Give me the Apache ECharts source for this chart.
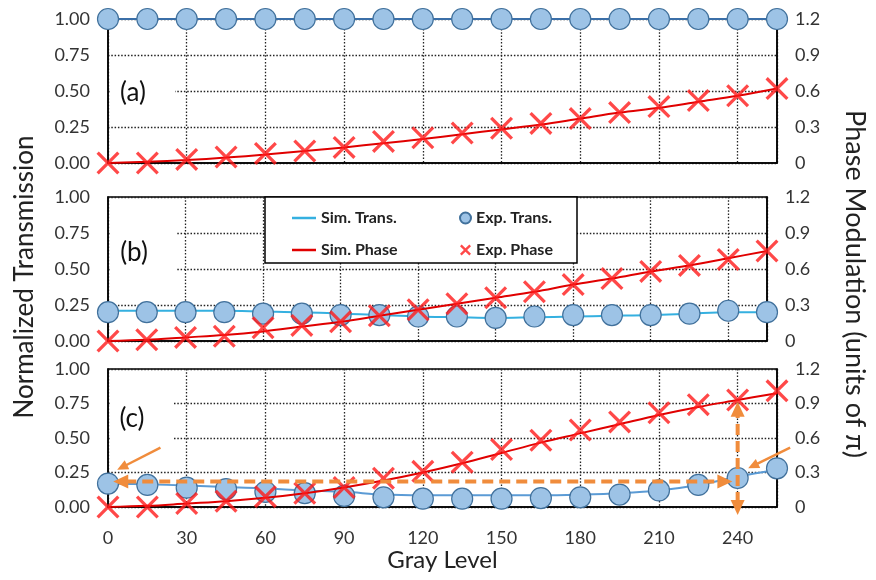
<!DOCTYPE html>
<html><head><meta charset="utf-8">
<script src="https://cdn.jsdelivr.net/npm/echarts@6/dist/echarts.min.js"></script>
<style>html,body{margin:0;padding:0;background:#fff}#c{width:876px;height:580px}</style>
</head><body><div id="c"></div><script>
// ---- data ----
const gray = [0,15,30,45,60,75,90,105,120,135,150,165,180,195,210,225,240,255];
const xTicks = [0,30,60,90,120,150,180,210,240];
const leftTicks = ['0.00','0.25','0.50','0.75','1.00'];
const rightTicks = ['0','0.3','0.6','0.9','1.2'];

const aSimTrans = [1,1,1,1,1,1,1,1,1,1,1,1,1,1,1,1,1,1];
const aExpTrans = [1,1,1,1,1,1,1,1,1,1,1,1,1,1,1,1,1,1];
const aSimPhase = [0,0.01,0.025,0.045,0.07,0.10,0.13,0.165,0.20,0.24,0.28,0.32,0.37,0.42,0.46,0.51,0.56,0.62];
const aExpPhase = [0,0,0.03,0.05,0.08,0.10,0.13,0.18,0.21,0.25,0.29,0.33,0.37,0.42,0.47,0.52,0.56,0.62];

const bSimTrans = [0.21,0.21,0.21,0.21,0.205,0.20,0.19,0.18,0.17,0.165,0.16,0.165,0.17,0.175,0.18,0.19,0.20,0.20];
const bExpTrans = [0.20,0.20,0.20,0.20,0.19,0.19,0.18,0.18,0.17,0.17,0.16,0.17,0.18,0.18,0.18,0.19,0.21,0.20];
const bSimPhase = [0,0.01,0.03,0.05,0.08,0.12,0.16,0.21,0.26,0.31,0.36,0.41,0.47,0.52,0.58,0.63,0.69,0.75];
const bExpPhase = [0,0.01,0.03,0.04,0.11,0.13,0.16,0.21,0.26,0.31,0.36,0.41,0.47,0.52,0.58,0.63,0.68,0.75];

const cSimTrans = [0.17,0.165,0.155,0.145,0.135,0.12,0.11,0.09,0.085,0.085,0.085,0.085,0.09,0.10,0.12,0.16,0.22,0.27];
const cExpTrans = [0.17,0.16,0.14,0.13,0.11,0.10,0.08,0.07,0.06,0.06,0.06,0.065,0.07,0.09,0.12,0.16,0.21,0.28];
const cSimPhase = [0,0.01,0.03,0.05,0.08,0.12,0.17,0.23,0.30,0.38,0.47,0.56,0.64,0.72,0.80,0.87,0.93,0.99];
const cExpPhase = [0,0,0.03,0.05,0.09,0.12,0.17,0.25,0.31,0.39,0.50,0.58,0.67,0.74,0.82,0.89,0.93,1.01];

// ---- chart ----
const FONT = 'Lato';
const ORANGE = '#F08C3C';
const XPATH = 'path://M0,2L2,0L10,8L18,0L20,2L12,10L20,18L18,20L10,12L2,20L0,18L8,10Z';
const XPATH_LEG = 'path://M0,3L3,0L10,7L17,0L20,3L13,10L20,17L17,20L10,13L3,20L0,17L7,10Z';
const zip = (xs, ys) => xs.map((x, i) => [x, ys[i]]);
const chart = echarts.init(document.getElementById('c'));

const gridDefs = [{top:19,height:144},{top:197,height:144},{top:369,height:138}];
const grid = gridDefs.map(g => ({left:108, right:99, top:g.top, height:g.height, show:true,
  borderColor:'#000', borderWidth:1.5, backgroundColor:'transparent', containLabel:false}));

const dotted = {show:true, lineStyle:{color:'#222', width:1.3, type:[1.5,1.8]}};
const xAxis = [0,1,2].map(i => ({
  type:'value', gridIndex:i, min:0, max:255, interval:30,
  axisLine:{show:true, lineStyle:{color:'#000', width:1.5}}, axisTick:{show:false},
  splitLine: dotted,
  axisLabel:{show:i===2, showMaxLabel:false, margin:22, fontFamily:FONT, fontSize:18, color:'#333',
    formatter: v => { const k = xTicks.indexOf(v); return k >= 0 ? String(xTicks[k]) : ''; }},
  name: i===2 ? 'Gray Level' : '', nameLocation:'middle', nameGap:41,
  nameTextStyle:{fontFamily:FONT, fontSize:24, color:'#222'}
}));
const yAxis = [];
[0,1,2].forEach(i => {
  yAxis.push({type:'value', gridIndex:i, position:'left', min:0, max:1, interval:0.25,
    axisLine:{show:true, lineStyle:{color:'#000', width:1.5}}, axisTick:{show:false},
    splitLine: dotted,
    axisLabel:{margin:18, fontFamily:FONT, fontSize:18, color:'#333',
      formatter: v => leftTicks[Math.round(v/0.25)]},
    name: i===1 ? 'Normalized Transmission' : '', nameLocation:'middle', nameGap:70, nameRotate:90,
    nameTextStyle:{fontFamily:FONT, fontSize:26, color:'#222', padding:[0,16,0,0]}});
  yAxis.push({type:'value', gridIndex:i, position:'right', min:0, max:1.2, interval:0.3,
    axisLine:{show:true, lineStyle:{color:'#000', width:1.5}}, axisTick:{show:false},
    splitLine:{show:false},
    axisLabel:{margin:18, fontFamily:FONT, fontSize:18, color:'#333',
      formatter: v => rightTicks[Math.round(v/0.3)]},
    name: i===1 ? 'Phase Modulation (units of \u03c0)' : '', nameLocation:'middle', nameGap:74, nameRotate:-90,
    nameTextStyle:{fontFamily:FONT, fontSize:27, color:'#222', padding:[0,0,0,30]}});
});

function panel(i, simT, expT, simP, expP, tColor) {
  return [
    {name:'Sim. Trans.', type:'line', xAxisIndex:i, yAxisIndex:2*i, data:zip(gray, simT), smooth:0.35,
      symbol:'none', showSymbol:false, clip:false, lineStyle:{color:tColor, width:2}, itemStyle:{color:tColor}, z:2},
    {name:'Exp. Trans.', type:'scatter', xAxisIndex:i, yAxisIndex:2*i, data:zip(gray, expT), symbol:'circle',
      symbolSize:21, clip:false, itemStyle:{color:'#9DC3E6', borderColor:'#41719C', borderWidth:1.2, opacity:1}, z:3},
    {name:'Sim. Phase', type:'line', xAxisIndex:i, yAxisIndex:2*i+1, data:zip(gray, simP), smooth:0.35,
      symbol:'none', showSymbol:false, clip:false, lineStyle:{color:'#E00000', width:2}, itemStyle:{color:'#E00000'}, z:4},
    {name:'Exp. Phase', type:'scatter', xAxisIndex:i, yAxisIndex:2*i+1, data:zip(gray, expP), symbol:XPATH,
      symbolSize:23, clip:false, itemStyle:{color:'#FF1A1A'}, z:5}
  ];
}
const series = [].concat(
  panel(0, aSimTrans, aExpTrans, aSimPhase, aExpPhase, '#3B6FA8'),
  panel(1, bSimTrans, bExpTrans, bSimPhase, bExpPhase, '#35B0E0'),
  panel(2, cSimTrans, cExpTrans, cSimPhase, cExpPhase, '#5B9BD5')
);

const legTxt = {fontFamily:FONT, fontSize:16, fontWeight:'bold', color:'#222', lineHeight:18};
const legend = [
  {data:[{name:'Sim. Trans.', icon:'rect', itemStyle:{color:'#35B0E0'}},
         {name:'Sim. Phase', icon:'rect', itemStyle:{color:'#E00000'}}],
    orient:'vertical', left:287, top:204, itemWidth:24, itemHeight:2.5, itemGap:14, selectedMode:false, textStyle:legTxt, z:10},
  {data:[{name:'Exp. Trans.', icon:'circle'}, {name:'Exp. Phase', icon:XPATH_LEG}],
    orient:'vertical', left:454, top:204, itemWidth:11, itemHeight:11, itemGap:14, selectedMode:false, textStyle:legTxt, z:10}
];

const baseGraphic = [
  {type:'rect', shape:{x:265, y:197, width:312, height:66}, style:{fill:'#fff', stroke:'#000', lineWidth:1.5}, z:3},
  {type:'rect', shape:{x:110, y:74, width:65, height:38}, style:{fill:'#fff'}, z:3},
  {type:'rect', shape:{x:110, y:226, width:67, height:50}, style:{fill:'#fff'}, z:3},
  {type:'rect', shape:{x:110, y:396, width:63, height:50}, style:{fill:'#fff'}, z:3},
  {type:'text', style:{text:'(a)', x:133, y:93, align:'center', verticalAlign:'middle', font:'26px Lato', fill:'#111'}, z:4},
  {type:'text', style:{text:'(b)', x:134, y:253, align:'center', verticalAlign:'middle', font:'26px Lato', fill:'#111'}, z:4},
  {type:'text', style:{text:'(c)', x:132, y:419, align:'center', verticalAlign:'middle', font:'26px Lato', fill:'#111'}, z:4}
];

chart.setOption({animation:false, grid, xAxis, yAxis, series, legend, graphic:baseGraphic});

// ---- orange annotations in panel (c), positioned from data coordinates ----
const pL = p => chart.convertToPixel({xAxisIndex:2, yAxisIndex:4}, p);
const pR = p => chart.convertToPixel({xAxisIndex:2, yAxisIndex:5}, p);
function head(tip, from, len, hw) {
  const dx = tip[0]-from[0], dy = tip[1]-from[1], d = Math.hypot(dx, dy), ux = dx/d, uy = dy/d;
  const bx = tip[0]-ux*len, by = tip[1]-uy*len;
  return {type:'polygon', shape:{points:[tip, [bx-uy*hw, by+ux*hw], [bx+uy*hw, by-ux*hw]]}, style:{fill:ORANGE}, z:20};
}
function arrow(a, b, both, width, dash, len, hw) {
  const dx = b[0]-a[0], dy = b[1]-a[1], d = Math.hypot(dx, dy), ux = dx/d, uy = dy/d;
  const s = both ? [a[0]+ux*len*0.8, a[1]+uy*len*0.8] : a;
  const e = [b[0]-ux*len*0.8, b[1]-uy*len*0.8];
  const out = [{type:'line', shape:{x1:s[0], y1:s[1], x2:e[0], y2:e[1]},
    style:{stroke:ORANGE, lineWidth:width, lineDash:dash}, z:20}, head(b, a, len, hw)];
  if (both) out.push(head(a, b, len, hw));
  return out;
}
const ann = [].concat(
  arrow(pL([2, 0.185]), pL([238, 0.185]), true, 4, [11,6], 15, 7),
  arrow(pR([240, -0.07]), pR([240, 0.915]), true, 4, [11,6], 15, 7),
  arrow(pL([20, 0.43]), pL([3.5, 0.27]), false, 2.5, null, 11, 5),
  arrow(pL([260, 0.43]), pL([244, 0.28]), false, 2.5, null, 11, 5)
);
chart.setOption({graphic: baseGraphic.concat(ann)}, {replaceMerge:['graphic']});
</script></body></html>
